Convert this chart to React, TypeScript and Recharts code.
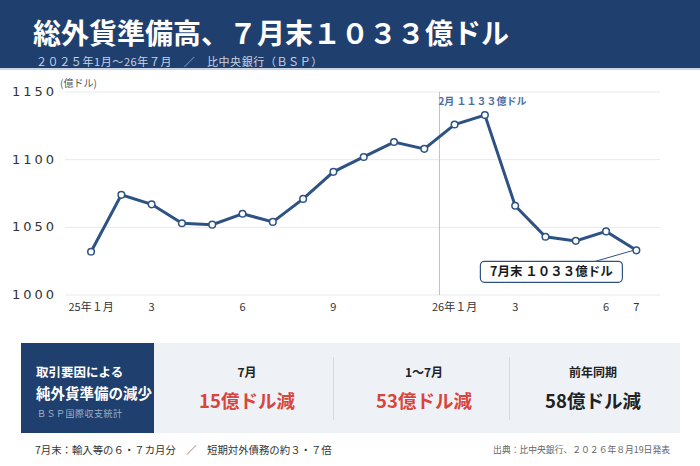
import React from "react";
import {
  LineChart,
  Line,
  XAxis,
  YAxis,
  CartesianGrid,
  ReferenceLine,
  Label,
  LabelList,
} from "recharts";

const monthIndex = [0, 1, 2, 3, 4, 5, 6, 7, 8, 9, 10, 11, 12, 13, 14, 15, 16, 17, 18];
const reserves = [
  1032, 1074, 1067, 1053, 1052, 1060, 1054, 1071, 1091, 1102, 1113, 1108,
  1126, 1133, 1066, 1043, 1040, 1047, 1033,
];
const xTickPositions = [0, 2, 5, 8, 12, 14, 17, 18];
const xTickLabels = ["25年１月", "3", "6", "9", "26年１月", "3", "6", "7"];
const yTicks = [1000, 1050, 1100, 1150];
const yTickLabels = ["1000", "1050", "1100", "1150"];

const summaryHeads = ["7月", "1～7月", "前年同期"];
const summaryValues = ["15億ドル減", "53億ドル減", "58億ドル減"];
const summaryColors = ["#d9443c", "#d9443c", "#222222"];

const data = monthIndex.map((m, i) => ({ m, v: reserves[i] }));

const NAVY = "#1f3f6e";
const LINE = "#2d5283";
const FONT = "'Noto Sans CJK JP', 'Noto Sans', sans-serif";

const YTick = (props: any) => {
  const { x, y, payload } = props;
  const idx = yTicks.indexOf(payload.value);
  return (
    <text
      x={x}
      y={y}
      dy={4}
      textAnchor="end"
      fontSize={13}
      fill="#333"
      letterSpacing={3}
      fontFamily="'DejaVu Sans', sans-serif"
    >
      {yTickLabels[idx]}
    </text>
  );
};

const XTick = (props: any) => {
  const { x, y, payload } = props;
  const idx = xTickPositions.indexOf(payload.value);
  return (
    <text x={x} y={y} dy={8} textAnchor="middle" fontSize={11} fill="#333" fontFamily={FONT}>
      {xTickLabels[idx]}
    </text>
  );
};

const Callout = (props: any) => {
  const { x, y, index } = props;
  if (index !== reserves.length - 1) return null;
  const bx = x - 156;
  const by = y + 11;
  const bw = 142;
  const bh = 21;
  return (
    <g>
      <line x1={x - 3} y1={y} x2={x - 41} y2={by} stroke={LINE} strokeWidth={1} />
      <rect x={bx} y={by} width={bw} height={bh} rx={4} fill="#fff" stroke={LINE} strokeWidth={1.2} />
      <text
        x={bx + bw / 2}
        y={by + 15}
        textAnchor="middle"
        fontSize={12.5}
        fontWeight={700}
        fill="#1a1a1a"
        fontFamily={FONT}
      >
        7月末 １０３３億ドル
      </text>
    </g>
  );
};

export default function App() {
  return (
    <div
      style={{
        position: "absolute",
        left: 0,
        top: 0,
        width: 700,
        height: 466,
        background: "#fff",
        fontFamily: FONT,
        overflow: "hidden",
      }}
    >
      <div style={{ position: "absolute", left: 0, top: 0, width: 700, height: 68, background: NAVY }} />
      <div style={{ position: "absolute", left: 0, top: 68, width: 700, height: 2, background: "#c9d5e6" }} />
      <div
        style={{
          position: "absolute",
          left: 33,
          top: 16,
          fontSize: 28,
          fontWeight: 700,
          color: "#fff",
          whiteSpace: "nowrap",
          lineHeight: "32px",
        }}
      >
        総外貨準備高、７月末１０３３億ドル
      </div>
      <div
        style={{
          position: "absolute",
          left: 36,
          top: 53,
          fontSize: 11,
          color: "#c9d3e2",
          whiteSpace: "nowrap",
          lineHeight: "16px",
          letterSpacing: 0.6,
        }}
      >
        ２０２５年1月～26年７月　／　比中央銀行（ＢＳＰ）
      </div>

      <div style={{ position: "absolute", left: 0, top: 0 }}>
        <LineChart
          width={700}
          height={330}
          data={data}
          margin={{ top: 92, right: 40, bottom: 5, left: 5 }}
        >
          <CartesianGrid vertical={false} stroke="#e6e9ee" />
          <XAxis
            dataKey="m"
            type="number"
            domain={[-0.86, 18.78]}
            ticks={xTickPositions}
            tick={<XTick />}
            axisLine={false}
            tickLine={false}
            interval={0}
            height={30}
          />
          <YAxis
            width={60}
            domain={[1000, 1150]}
            ticks={yTicks}
            tick={<YTick />}
            axisLine={false}
            tickLine={false}
            interval={0}
          />
          <ReferenceLine x={11.5} stroke="#b9c1cc" strokeWidth={1}>
            <Label
              content={(p: any) => {
                const vb = p.viewBox || {};
                return (
                  <text
                    x={vb.x - 1}
                    y={vb.y + 13}
                    fontSize={10}
                    fontWeight={700}
                    fill="#4a6fa5"
                    fontFamily={FONT}
                  >
                    2月 １１３３億ドル
                  </text>
                );
              }}
            />
          </ReferenceLine>
          <Line
            type="linear"
            dataKey="v"
            stroke={LINE}
            strokeWidth={3}
            dot={{ r: 3.3, fill: "#fff", stroke: LINE, strokeWidth: 1.5 }}
            isAnimationActive={false}
          >
            <LabelList dataKey="v" content={<Callout />} />
          </Line>
        </LineChart>
      </div>
      <div
        style={{
          position: "absolute",
          left: 60,
          top: 76,
          fontSize: 10,
          color: "#555",
          whiteSpace: "nowrap",
          lineHeight: "13px",
        }}
      >
        (億ドル)
      </div>

      <div style={{ position: "absolute", left: 21, top: 343, width: 659, height: 90, background: "#eef2f7" }} />
      <div style={{ position: "absolute", left: 21, top: 343, width: 133, height: 90, background: NAVY }} />
      <div
        style={{
          position: "absolute",
          left: 36,
          top: 364,
          fontSize: 12.5,
          fontWeight: 700,
          color: "#fff",
          whiteSpace: "nowrap",
          lineHeight: "16px",
        }}
      >
        取引要因による
      </div>
      <div
        style={{
          position: "absolute",
          left: 36,
          top: 384,
          fontSize: 14.5,
          fontWeight: 700,
          color: "#fff",
          whiteSpace: "nowrap",
          lineHeight: "18px",
        }}
      >
        純外貨準備の減少
      </div>
      <div
        style={{
          position: "absolute",
          left: 37,
          top: 408,
          fontSize: 9,
          color: "#9fb0c8",
          whiteSpace: "nowrap",
          lineHeight: "12px",
          letterSpacing: 0.5,
        }}
      >
        ＢＳＰ国際収支統計
      </div>
      {[333, 509].map((x) => (
        <div key={x} style={{ position: "absolute", left: x, top: 357, width: 1, height: 63, background: "#d3d9e2" }} />
      ))}
      {summaryHeads.map((h, i) => {
        const cx = [247, 424, 593][i];
        return (
          <React.Fragment key={h}>
            <div
              style={{
                position: "absolute",
                left: cx - 80,
                width: 160,
                top: 364,
                textAlign: "center",
                fontSize: 12,
                fontWeight: 700,
                color: "#222",
                lineHeight: "16px",
              }}
            >
              {h}
            </div>
            <div
              style={{
                position: "absolute",
                left: cx - 80,
                width: 160,
                top: 388,
                textAlign: "center",
                fontSize: 18.5,
                fontWeight: 700,
                color: summaryColors[i],
                lineHeight: "24px",
              }}
            >
              {summaryValues[i]}
            </div>
          </React.Fragment>
        );
      })}
      <div
        style={{
          position: "absolute",
          left: 35,
          top: 443,
          fontSize: 10.4,
          color: "#333",
          whiteSpace: "nowrap",
          lineHeight: "14px",
        }}
      >
        7月末：輸入等の６・７カ月分　／　短期対外債務の約３・７倍
      </div>
      <div
        style={{
          position: "absolute",
          right: 30,
          top: 444,
          fontSize: 8.8,
          color: "#666",
          whiteSpace: "nowrap",
          lineHeight: "12px",
        }}
      >
        出典：比中央銀行、２０２６年８月19日発表
      </div>
    </div>
  );
}
